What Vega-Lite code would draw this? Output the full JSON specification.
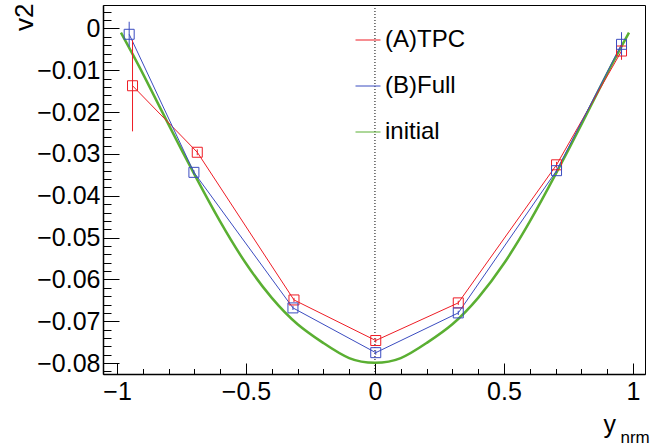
{
  "$schema": "https://vega.github.io/schema/vega-lite/v6.json",
  "width": 542,
  "height": 369,
  "autosize": {"type": "none"},
  "padding": {"left": 103, "top": 5, "right": 9, "bottom": 71},
  "background": "white",
  "config": {
    "view": {"stroke": "black", "strokeWidth": 1},
    "font": "Liberation Sans"
  },
  "datasets": {
    "meas": [
      {"series": "(A)TPC", "x": -0.940, "v2": -0.0137, "lo": -0.0246, "hi": -0.0028},
      {"series": "(A)TPC", "x": -0.689, "v2": -0.0296, "lo": -0.0303, "hi": -0.0289},
      {"series": "(A)TPC", "x": -0.314, "v2": -0.0649, "lo": -0.0654, "hi": -0.0644},
      {"series": "(A)TPC", "x": 0.003, "v2": -0.0746, "lo": -0.0751, "hi": -0.0741},
      {"series": "(A)TPC", "x": 0.323, "v2": -0.0656, "lo": -0.0661, "hi": -0.0651},
      {"series": "(A)TPC", "x": 0.704, "v2": -0.0326, "lo": -0.0333, "hi": -0.0319},
      {"series": "(A)TPC", "x": 0.956, "v2": -0.0054, "lo": -0.0075, "hi": -0.0033},
      {"series": "(B)Full", "x": -0.953, "v2": -0.0014, "lo": -0.0044, "hi": 0.0016},
      {"series": "(B)Full", "x": -0.702, "v2": -0.0344, "lo": -0.0349, "hi": -0.0339},
      {"series": "(B)Full", "x": -0.318, "v2": -0.0668, "lo": -0.0673, "hi": -0.0663},
      {"series": "(B)Full", "x": 0.003, "v2": -0.0775, "lo": -0.0780, "hi": -0.0770},
      {"series": "(B)Full", "x": 0.323, "v2": -0.0680, "lo": -0.0685, "hi": -0.0675},
      {"series": "(B)Full", "x": 0.704, "v2": -0.0340, "lo": -0.0345, "hi": -0.0335},
      {"series": "(B)Full", "x": 0.956, "v2": -0.0038, "lo": -0.0067, "hi": -0.0009}
    ],
    "initial": [
      {"series": "initial", "x": -0.985, "v2": -0.0010},
      {"series": "initial", "x": -0.9, "v2": -0.0108},
      {"series": "initial", "x": -0.8, "v2": -0.0230},
      {"series": "initial", "x": -0.7, "v2": -0.0349},
      {"series": "initial", "x": -0.6, "v2": -0.0462},
      {"series": "initial", "x": -0.5, "v2": -0.0562},
      {"series": "initial", "x": -0.4, "v2": -0.0644},
      {"series": "initial", "x": -0.3, "v2": -0.0707},
      {"series": "initial", "x": -0.2, "v2": -0.0752},
      {"series": "initial", "x": -0.1, "v2": -0.0788},
      {"series": "initial", "x": 0.0, "v2": -0.0799},
      {"series": "initial", "x": 0.1, "v2": -0.0788},
      {"series": "initial", "x": 0.2, "v2": -0.0752},
      {"series": "initial", "x": 0.3, "v2": -0.0707},
      {"series": "initial", "x": 0.4, "v2": -0.0644},
      {"series": "initial", "x": 0.5, "v2": -0.0562},
      {"series": "initial", "x": 0.6, "v2": -0.0462},
      {"series": "initial", "x": 0.7, "v2": -0.0349},
      {"series": "initial", "x": 0.8, "v2": -0.0230},
      {"series": "initial", "x": 0.9, "v2": -0.0108},
      {"series": "initial", "x": 0.985, "v2": -0.0010}
    ]
  },
  "resolve": {"axis": {"x": "independent", "y": "independent"}},
  "layer": [
    {
      "data": {"values": [{"x0": 0}]},
      "mark": {"type": "rule", "color": "black", "strokeWidth": 1, "strokeDash": [1, 2]},
      "encoding": {
        "x": {
          "field": "x0", "type": "quantitative",
          "scale": {"domain": [-1.0545, 1.047], "nice": false, "zero": false},
          "axis": {
            "orient": "bottom",
            "values": [-1, -0.5, 0, 0.5, 1],
            "format": ".1~f",
            "tickSize": -11,
            "tickColor": "black",
            "tickWidth": 1,
            "domainColor": "black",
            "domainWidth": 1.5,
            "labelFont": "Liberation Sans",
            "labelFontSize": 25,
            "labelColor": "black",
            "labelPadding": 16,
            "labelOverlap": false,
            "labelFlush": false,
            "labelBound": false,
            "grid": false,
            "title": "y",
            "titleFont": "Liberation Sans",
            "titleFontSize": 25,
            "titleFontWeight": "normal",
            "titleColor": "black",
            "titleAlign": "left",
            "titleBaseline": "alphabetic",
            "titleX": 500,
            "titleY": 58
          }
        },
        "y": {"value": 0},
        "y2": {"value": 369}
      }
    },
    {
      "data": {"name": "initial"},
      "mark": {"type": "line", "strokeWidth": 2.5, "interpolate": "natural"},
      "encoding": {
        "x": {
          "field": "x", "type": "quantitative",
          "axis": {
            "orient": "bottom",
            "values": [-0.9, -0.8, -0.7, -0.6, -0.4, -0.3, -0.2, -0.1, 0.1, 0.2, 0.3, 0.4, 0.6, 0.7, 0.8, 0.9],
            "tickSize": -5.5,
            "tickColor": "black",
            "tickWidth": 1,
            "domain": false, "labels": false, "grid": false, "title": null
          }
        },
        "y": {
          "field": "v2", "type": "quantitative",
          "scale": {"domain": [-0.0826, 0.0056], "nice": false, "zero": false},
          "axis": {
            "orient": "left",
            "values": [-0.08, -0.07, -0.06, -0.05, -0.04, -0.03, -0.02, -0.01, 0],
            "format": ".2~f",
            "tickSize": -16,
            "tickColor": "black",
            "tickWidth": 1,
            "domainColor": "black",
            "domainWidth": 1.5,
            "labelFont": "Liberation Sans",
            "labelFontSize": 25,
            "labelColor": "black",
            "labelPadding": 19,
            "labelOverlap": false,
            "labelFlush": false,
            "labelBound": false,
            "grid": false,
            "title": "v2",
            "titleFont": "Liberation Sans",
            "titleFontSize": 26,
            "titleFontWeight": "normal",
            "titleColor": "black",
            "titleAngle": -90,
            "titleAlign": "right",
            "titleBaseline": "middle",
            "titleX": -79,
            "titleY": -2
          }
        },
        "color": {
          "field": "series", "type": "nominal",
          "scale": {"domain": ["(A)TPC", "(B)Full", "initial"], "range": ["#ee1c25", "#3b4cc0", "#5aaf32"]},
          "legend": {
            "orient": "none",
            "legendX": 252,
            "legendY": 22,
            "title": null,
            "labelFont": "Liberation Sans",
            "labelFontSize": 24,
            "labelColor": "black",
            "labelOffset": 4,
            "symbolSize": 625,
            "symbolStrokeWidth": 1,
            "rowPadding": 21,
            "encoding": {
              "symbols": {
                "shape": {"signal": "datum.label == 'initial' ? 'M-1,0H1' : 'M-1,0H1M-0.4,-0.4H0.4V0.4H-0.4Z'"},
                "strokeWidth": {"signal": "datum.label == 'initial' ? 2.5 : 1"},
                "fill": {"value": "transparent"}
              }
            }
          }
        }
      }
    },
    {
      "data": {"name": "meas"},
      "mark": {"type": "line", "strokeWidth": 1},
      "encoding": {
        "x": {
          "field": "x", "type": "quantitative",
          "axis": {
            "orient": "bottom",
            "domain": false, "ticks": false, "labels": false, "grid": false,
            "title": "nrm",
            "titleFont": "Liberation Sans",
            "titleFontSize": 17,
            "titleFontWeight": "normal",
            "titleColor": "black",
            "titleAlign": "left",
            "titleBaseline": "alphabetic",
            "titleX": 517,
            "titleY": 68
          }
        },
        "y": {
          "field": "v2", "type": "quantitative",
          "axis": {
            "orient": "left",
            "values": [-0.082, -0.078, -0.076, -0.074, -0.072, -0.068, -0.066, -0.064, -0.062, -0.058, -0.056, -0.054, -0.052, -0.048, -0.046, -0.044, -0.042, -0.038, -0.036, -0.034, -0.032, -0.028, -0.026, -0.024, -0.022, -0.018, -0.016, -0.014, -0.012, -0.008, -0.006, -0.004, -0.002, 0.002, 0.004],
            "tickSize": -8,
            "tickColor": "black",
            "tickWidth": 1,
            "domain": false, "labels": false, "grid": false, "title": null
          }
        },
        "color": {"field": "series", "type": "nominal"}
      }
    },
    {
      "data": {"name": "meas"},
      "mark": {"type": "rule", "strokeWidth": 1},
      "encoding": {
        "x": {"field": "x", "type": "quantitative", "axis": null},
        "y": {"field": "lo", "type": "quantitative", "axis": null},
        "y2": {"field": "hi"},
        "color": {"field": "series", "type": "nominal"}
      }
    },
    {
      "data": {"name": "meas"},
      "mark": {"type": "point", "shape": "square", "filled": false, "size": 100, "strokeWidth": 1, "opacity": 1},
      "encoding": {
        "x": {"field": "x", "type": "quantitative", "axis": null},
        "y": {"field": "v2", "type": "quantitative", "axis": null},
        "color": {"field": "series", "type": "nominal"}
      }
    }
  ]
}
